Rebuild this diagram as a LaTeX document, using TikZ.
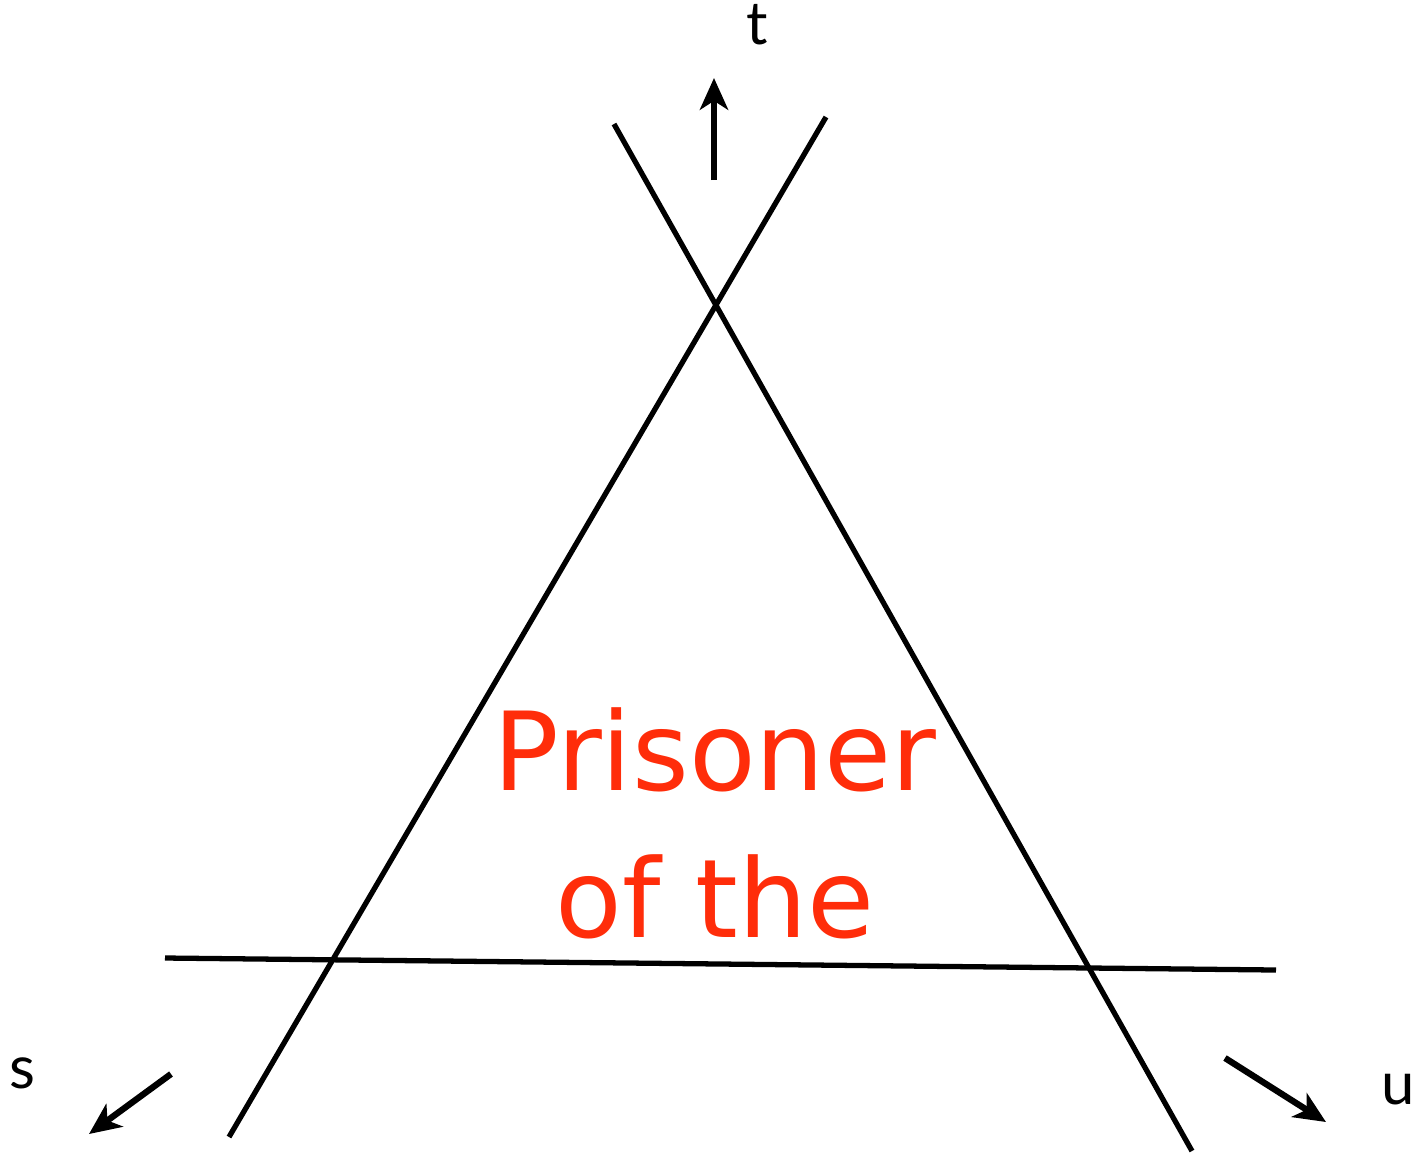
\documentclass[tikz,border=0pt]{standalone}
\usepackage{fontspec}
\setmainfont{Lato}
\newfontfamily\handfont{DejaVu Sans}
\usepackage{xcolor}
\usetikzlibrary{arrows.meta, positioning}
\definecolor{prisonred}{RGB}{255,45,10}

\begin{document}
\begin{tikzpicture}[
    x=0.01cm, y=-0.01cm,
    >=Stealth,
    leg/.style={line width=1.5pt},
    dir/.style={->, line width=1.8pt, >={Stealth[length=9pt, width=8pt, inset=2.5pt]}},
    lbl/.style={font=\fontsize{17}{17}\selectfont, inner sep=0pt, anchor=base},
    title/.style={text=prisonred, inner sep=0pt, anchor=base,
        font=\handfont\fontsize{31}{31}\selectfont},
]
\useasboundingbox (0,0) rectangle (1414,1153);
%% the three lines
\coordinate (a1) at (229,1137);
\coordinate (a2) at (826,117);
\coordinate (b1) at (614,124);
\coordinate (b2) at (1192,1151);
\coordinate (c1) at (165,958);
\coordinate (c2) at (1276,970);
\draw[leg] (a1) -- (a2);
\draw[leg] (b1) -- (b2);
\draw[leg] (c1) -- (c2);
%% directions
\coordinate (t0) at (714,180);
\coordinate (t1) at (714,78);
\coordinate (s0) at (171,1074);
\coordinate (s1) at (89,1134);
\coordinate (u0) at (1225,1058);
\coordinate (u1) at (1326,1122);
\draw[dir] (t0) -- (t1);
\draw[dir] (s0) -- (s1);
\draw[dir] (u0) -- (u1);
\node[lbl] (tl) at (757,44) {t};
\node[lbl] (sl) at (22,1088) {s};
\node[lbl] (ul) at (1398,1104) {u};
%% label
\node[title] (pr1) at (715,790) {Prisoner};
\node[title] (pr2) at (715,937) {of the};
\end{tikzpicture}
\end{document}
